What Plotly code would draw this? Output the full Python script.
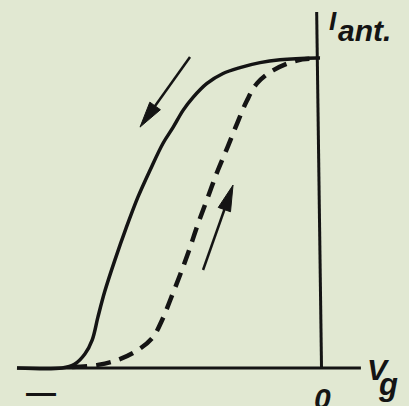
import math
import plotly.graph_objects as go

# Grid voltage V_g (relative units, 0 at the current axis) and anode current
# I_ant (fraction of the saturation value) for the two sweep directions.
vg_down = [-10.00, -8.51, -8.09, -7.76, -7.52, -7.33, -7.10, -6.77, -6.40,
           -6.01, -5.61, -5.18, -4.85, -4.52, -4.19, -3.73, -3.20, -2.64,
           -1.98, -1.32, -0.10, 0.0]
i_down = [0.000, 0.000, 0.013, 0.045, 0.090, 0.164, 0.248, 0.348, 0.451,
          0.551, 0.638, 0.725, 0.776, 0.831, 0.873, 0.918, 0.950, 0.969,
          0.985, 0.994, 1.000, 1.000]

vg_up = [-8.18, -7.33, -6.67, -6.01, -5.51, -5.21, -4.92, -4.62, -4.32, -4.03,
         -3.70, -3.37, -3.04, -2.71, -2.41, -2.08, -1.55, -0.76, -0.17]
i_up = [0.003, 0.010, 0.026, 0.058, 0.100, 0.155, 0.225, 0.300, 0.380, 0.464,
        0.551, 0.638, 0.715, 0.795, 0.863, 0.918, 0.960, 0.992, 0.998]

# Direction arrows: tail -> tip
arrow_tail_vg = [-4.29, -3.86]
arrow_tail_i = [1.003, 0.316]
arrow_tip_vg = [-5.94, -2.87]
arrow_tip_i = [0.777, 0.590]

# Axis extents
vg_axis = [-10.0, 1.35]
i_axis_top = 1.148

W, H = 409, 406
X_RANGE = [-10.561, 2.937]
Y_RANGE = [-0.1226, 1.187]
INK = "#141414"
BG = "rgb(225,232,210)"
FONT = "Liberation Sans, Arial, sans-serif"


def to_px(x, y):
    px = (x - X_RANGE[0]) / (X_RANGE[1] - X_RANGE[0]) * W
    py = (Y_RANGE[1] - y) / (Y_RANGE[1] - Y_RANGE[0]) * H
    return px, py


def to_data(px, py):
    x = X_RANGE[0] + px / W * (X_RANGE[1] - X_RANGE[0])
    y = Y_RANGE[1] - py / H * (Y_RANGE[1] - Y_RANGE[0])
    return x, y


fig = go.Figure()

# Axes
fig.add_shape(type="line", x0=vg_axis[0], y0=0, x1=vg_axis[1], y1=0,
              line=dict(color=INK, width=3))
fig.add_shape(type="line", x0=0.05, y0=0, x1=-0.11, y1=i_axis_top,
              line=dict(color=INK, width=3))

# Curves
fig.add_trace(go.Scatter(x=vg_down, y=i_down, mode="lines",
                         line=dict(color=INK, width=3.5, shape="spline", smoothing=1.0),
                         hoverinfo="skip", showlegend=False))
fig.add_trace(go.Scatter(x=vg_up, y=i_up, mode="lines",
                         line=dict(color=INK, width=4.5, shape="spline", smoothing=1.0,
                                   dash="15px,9px"),
                         hoverinfo="skip", showlegend=False))

# Arrows with narrow filled heads
HEAD_LEN, HEAD_HALF = 26, 6.5
for tx, ty, hx, hy in zip(arrow_tail_vg, arrow_tail_i, arrow_tip_vg, arrow_tip_i):
    sx, sy = to_px(tx, ty)
    ex, ey = to_px(hx, hy)
    length = math.hypot(ex - sx, ey - sy)
    dx, dy = (ex - sx) / length, (ey - sy) / length
    bx, by = ex - HEAD_LEN * dx, ey - HEAD_LEN * dy
    nx, ny = -dy, dx
    shaft = [to_data(sx, sy), to_data(bx + 2 * dx, by + 2 * dy)]
    head = [to_data(ex, ey), to_data(bx + HEAD_HALF * nx, by + HEAD_HALF * ny),
            to_data(bx - HEAD_HALF * nx, by - HEAD_HALF * ny), to_data(ex, ey)]
    fig.add_trace(go.Scatter(x=[p[0] for p in shaft], y=[p[1] for p in shaft],
                             mode="lines", line=dict(color=INK, width=2.5),
                             hoverinfo="skip", showlegend=False))
    fig.add_trace(go.Scatter(x=[p[0] for p in head], y=[p[1] for p in head],
                             mode="lines", fill="toself", fillcolor=INK,
                             line=dict(color=INK, width=1),
                             hoverinfo="skip", showlegend=False))


def label(text, px, py, size, xanchor="center", yanchor="middle",
          style="italic", weight="bold"):
    fig.add_annotation(text=text, x=px / W, y=1 - py / H, xref="paper", yref="paper",
                       xanchor=xanchor, yanchor=yanchor, showarrow=False,
                       font=dict(family=FONT, size=size, color=INK,
                                 style=style, weight=weight))


label("I", 333, 38, 26, yanchor="bottom")
label("ant.", 336, 31, 30, xanchor="left")
label("V", 378, 369, 30)
label("g", 388, 384, 31)
label("0", 322, 398, 30)
label("—", 41, 392, 30, style="normal")

fig.update_layout(
    width=W, height=H,
    margin=dict(l=0, r=0, t=0, b=0),
    paper_bgcolor=BG, plot_bgcolor=BG,
    xaxis=dict(range=X_RANGE, visible=False, fixedrange=True),
    yaxis=dict(range=Y_RANGE, visible=False, fixedrange=True),
    showlegend=False,
)

fig.write_html("out.html")
